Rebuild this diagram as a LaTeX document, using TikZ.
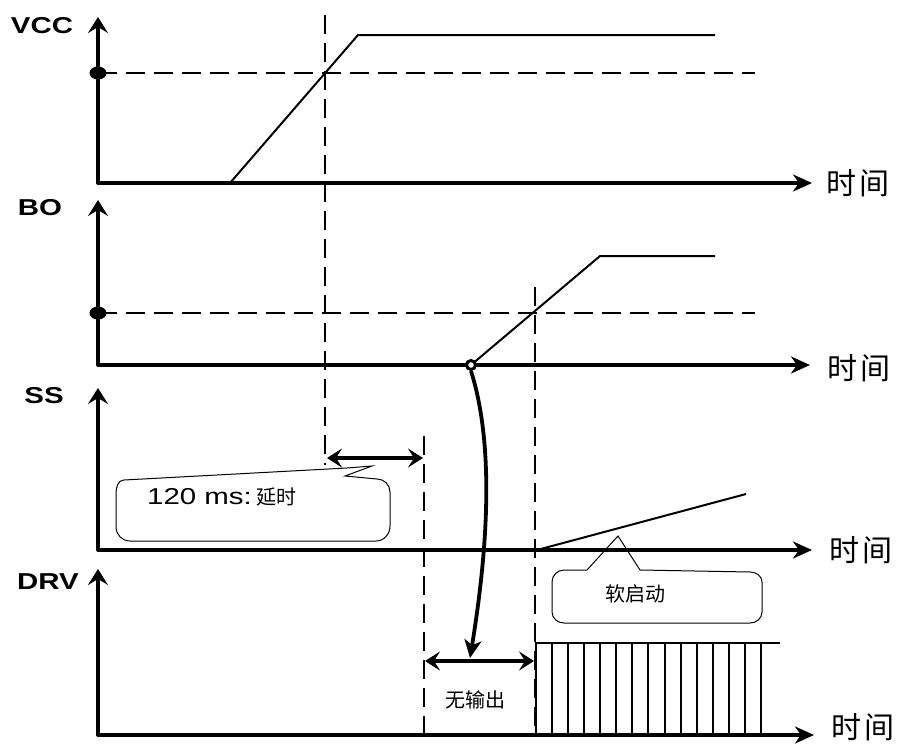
\documentclass[tikz,border=0pt]{standalone}
\usepackage{fontspec}
\setmainfont{Liberation Sans}
\newfontfamily\widesans[FakeStretch=1.28]{Liberation Sans}
\newfontfamily\cjk{Noto Sans CJK SC}
\usetikzlibrary{positioning, calc, arrows.meta}

\begin{document}
\begin{tikzpicture}[x=1pt, y=-1pt,
    yaxis/.style={line width=3.4pt, line cap=round, -{Stealth[length=16pt, width=20pt, inset=6pt]}},
    taxis/.style={line width=3.4pt, line cap=round, -{Stealth[length=19pt, width=17pt, inset=6pt]}},
    sig/.style={line width=2pt},
    guide/.style={line width=1.3pt, dash pattern=on 19pt off 9pt},
    span/.style={line width=3.6pt, {Stealth[length=15pt, width=19pt, inset=6pt]}-{Stealth[length=15pt, width=19pt, inset=6pt]}},
    bubble/.style={line width=1pt},
    siglabel/.style={font=\widesans\bfseries\fontsize{23}{23}\selectfont},
    timelabel/.style={font=\cjk\fontsize{30}{30}\selectfont},
    note/.style={font=\cjk\fontsize{20}{20}\selectfont}]
    \useasboundingbox (0,0) rectangle (905,747);

    % axes
    \coordinate (Ov) at (98,183);
    \coordinate (Ob) at (98,365);
    \coordinate (Os) at (98,550);
    \coordinate (Od) at (98,735);
    \draw[yaxis] (Ov) -- (98,17);
    \draw[taxis] (Ov) -- (812,183);
    \draw[yaxis] (Ob) -- (98,200);
    \draw[taxis] (Ob) -- (810,365);
    \draw[yaxis] (Os) -- (98,388);
    \draw[taxis] (Os) -- (812,550);
    \draw[yaxis] (Od) -- (98,569);
    \draw[taxis] (Od) -- (814,735);

    \node[siglabel] (vcc) at (42,26) {VCC};
    \node[siglabel] (bo)  at (40,208) {BO};
    \node[siglabel] (ss)  at (44,396) {SS};
    \node[siglabel] (drv) at (48,582) {DRV};
    \node[timelabel] (tv) at (858,183) {时\hspace{3pt}间};
    \node[timelabel] (tb) at (859,368) {时\hspace{3pt}间};
    \node[timelabel] (ts) at (861,550) {时\hspace{3pt}间};
    \node[timelabel] (td) at (863,727) {时\hspace{3pt}间};

    % thresholds
    \fill (98,73) ellipse (8.5pt and 6.5pt);
    \draw[guide] (98,73) -- (755,73);
    \fill (98,313) ellipse (8.5pt and 6.5pt);
    \draw[guide] (98,313) -- (755,313);
    \draw[guide] (325,15) -- (325,465);
    \draw[guide] (535,287) -- (535,735);
    \draw[guide] (424,436) -- (424,735);

    % signals
    \draw[sig] (230,183) -- (358,35) -- (715,35);
    \draw[sig] (471,365) -- (600,256) -- (715,256);
    \draw[sig] (537,550) -- (746,494);
    \draw[sig] (536,735) -- (536,643) -- (780,643);
    \foreach \i in {1,...,14}
        \draw[sig] ({536+16.07*\i},643) -- ({536+16.07*\i},735);

    % trigger
    \node[circle, draw, fill=white, line width=3pt, inner sep=0pt, minimum size=9pt] (trig) at (471,365) {};
    \coordinate (hit) at (470,658);
    \draw[line width=3.8pt, -{Stealth[length=18pt, width=17pt, inset=5pt]}]
        (trig.south) .. controls (496,450) and (486,560) .. (hit);

    % delays
    \coordinate (d1a) at (327,458);
    \coordinate (d1b) at (423,458);
    \draw[span] (d1a) -- (d1b);
    \coordinate (d2a) at (425,661);
    \coordinate (d2b) at (534,661);
    \draw[span] (d2a) -- (d2b);
    \node[note] (off) at (475,700) {无输出};

    % callouts
    \draw[bubble] (124,480) -- (347,468) -- (372,466) -- (345,476) -- (377,479)
        to[out=0, in=90] (390,492) -- (390,526) to[out=-90, in=0] (376,541)
        -- (130,541) to[out=180, in=-90] (116,527) -- (116,494) to[out=90, in=180] cycle;
    \node[font=\widesans\fontsize{23}{23}\selectfont, anchor=west, inner sep=0pt] (wait) at (147,497) {120 ms:};
    \node[note, right=4pt of wait, inner sep=0pt] (waitcn) {延时};

    \draw[bubble] (564,570) -- (587,570) -- (618,536) -- (640,570) -- (750,572)
        to[out=0, in=90] (762,582) -- (762,612) to[out=-90, in=0] (750,623)
        -- (564,623) to[out=180, in=-90] (552,612) -- (552,582) to[out=90, in=180] cycle;
    \node[note] (soft) at (635,594) {软启动};
\end{tikzpicture}
\end{document}
